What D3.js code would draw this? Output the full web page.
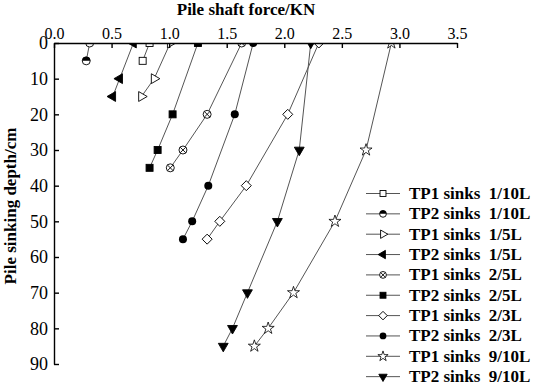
<!DOCTYPE html>
<html lang="en">
<head>
  <meta charset="UTF-8">
  <title>Pile shaft force</title>
  <style>
    body { margin: 0; background: #fff; }
    svg text { font-family: 'Liberation Serif', 'Times New Roman', serif !important; }
  </style>
</head>
<body>
  <svg id="svg" width="533" height="387"></svg>

  <script src="https://d3js.org/d3.v7.min.js"></script>
  <script>
    // ------ DATA ------------------------
    const seriesNames = [
      'TP1 sinks  1/10L', 'TP2 sinks  1/10L', 'TP1 sinks  1/5L', 'TP2 sinks  1/5L',
      'TP1 sinks  2/5L', 'TP2 sinks  2/5L', 'TP1 sinks  2/3L', 'TP2 sinks  2/3L',
      'TP1 sinks  9/10L', 'TP2 sinks  9/10L'
    ]
    const markerTypes = [
      'squareOpen', 'halfCircle', 'triRightOpen', 'triLeftFilled', 'circleX',
      'squareFilled', 'diamondOpen', 'circleFilled', 'starOpen', 'triDownFilled'
    ]

    // depth (cm) and force (KN) for each series
    const depth1_10 = [0, 5]
    const force1_10TP1 = [0.83, 0.77]
    const force1_10TP2 = [0.31, 0.28]

    const depth1_5 = [0, 10, 15]
    const force1_5TP1 = [1.01, 0.87, 0.76]
    const force1_5TP2 = [0.69, 0.57, 0.51]

    const depth2_5 = [0, 20, 30, 35]
    const force2_5TP1 = [1.63, 1.33, 1.12, 1.01]
    const force2_5TP2 = [1.25, 1.03, 0.90, 0.83]

    const depth2_3 = [0, 20, 40, 50, 55]
    const force2_3TP1 = [2.30, 2.03, 1.67, 1.44, 1.33]
    const force2_3TP2 = [1.73, 1.57, 1.34, 1.20, 1.12]

    const depth9_10 = [0, 30, 50, 70, 80, 85]
    const force9_10TP1 = [2.93, 2.71, 2.44, 2.08, 1.86, 1.74]
    const force9_10TP2 = [2.23, 2.13, 1.94, 1.68, 1.55, 1.47]

    const xTicks = [0, 0.5, 1.0, 1.5, 2.0, 2.5, 3.0, 3.5]
    const yTicks = [0, 10, 20, 30, 40, 50, 60, 70, 80, 90]

    const zip = (forces, depths) => forces.map((f, i) => ({ x: f, y: depths[i] }))
    const series = [
      zip(force1_10TP1, depth1_10), zip(force1_10TP2, depth1_10),
      zip(force1_5TP1, depth1_5), zip(force1_5TP2, depth1_5),
      zip(force2_5TP1, depth2_5), zip(force2_5TP2, depth2_5),
      zip(force2_3TP1, depth2_3), zip(force2_3TP2, depth2_3),
      zip(force9_10TP1, depth9_10), zip(force9_10TP2, depth9_10)
    ].map((pts, i) => ({ name: seriesNames[i], marker: markerTypes[i], points: pts }))

    // CONSTANTS
    const margin = { top: 43, left: 54 }
    const width = 403
    const height = 321
    const serif = "'Liberation Serif', 'Times New Roman', serif"

    // ------ SCALES ------------------------
    const xscale = d3.scaleLinear().domain([0, 3.5]).range([margin.left, margin.left + width])
    const yscale = d3.scaleLinear().domain([0, 90]).range([margin.top, margin.top + height])

    const svg = d3.select('#svg')

    svg.append('defs').append('clipPath').attr('id', 'plotClip')
      .append('rect')
      .attr('x', margin.left).attr('y', margin.top)
      .attr('width', width + 20).attr('height', height + 20)

    // draw one marker into group g (centred at 0,0)
    const drawMarker = (g, type, s) => {
      const sym = (t, size) => d3.symbol().type(t).size(size)()
      const black = '#000'
      if (type === 'squareOpen' || type === 'squareFilled') {
        g.append('rect').attr('x', -3.5 * s).attr('y', -3.5 * s)
          .attr('width', 7 * s).attr('height', 7 * s)
          .attr('fill', type === 'squareFilled' ? black : '#fff').attr('stroke', black).attr('stroke-width', 0.9)
      } else if (type === 'halfCircle') {
        const r = 4 * s
        g.append('circle').attr('r', r).attr('fill', '#fff').attr('stroke', black).attr('stroke-width', 0.9)
        g.append('path').attr('d', `M${-r},0A${r},${r} 0 0 1 ${r},0Z`).attr('fill', black)
      } else if (type === 'circleFilled') {
        g.append('circle').attr('r', 4 * s).attr('fill', black)
      } else if (type === 'circleX') {
        const r = 4 * s
        g.append('circle').attr('r', r).attr('fill', '#fff').attr('stroke', black).attr('stroke-width', 0.9)
        const k = r * 0.7
        g.append('path').attr('d', `M${-k},${-k}L${k},${k}M${-k},${k}L${k},${-k}`)
          .attr('stroke', black).attr('stroke-width', 0.9)
      } else if (type === 'diamondOpen') {
        g.append('path').attr('d', sym(d3.symbolSquare, 50 * s * s)).attr('transform', 'rotate(45)')
          .attr('fill', '#fff').attr('stroke', black).attr('stroke-width', 0.9)
      } else if (type === 'starOpen') {
        g.append('path').attr('d', sym(d3.symbolStar, 45 * s * s))
          .attr('fill', '#fff').attr('stroke', black).attr('stroke-width', 0.8)
      } else {
        const rot = { triRightOpen: 90, triLeftFilled: -90, triDownFilled: 180 }[type]
        const filled = type !== 'triRightOpen'
        g.append('path').attr('d', sym(d3.symbolTriangle, 42 * s * s)).attr('transform', `rotate(${rot})`)
          .attr('fill', filled ? black : '#fff').attr('stroke', black).attr('stroke-width', 0.9)
      }
    }

    // ---------- DRAW -------------------------------
    const plot = svg.append('g').attr('clip-path', 'url(#plotClip)')
    const line = d3.line().x(d => xscale(d.x)).y(d => yscale(d.y))

    series.forEach(s => {
      plot.append('path')
        .datum(s.points)
        .attr('d', line)
        .attr('fill', 'none')
        .attr('stroke', '#555')
        .attr('stroke-width', 1)
    })
    series.forEach(s => {
      s.points.forEach(p => {
        const g = plot.append('g').attr('transform', `translate(${xscale(p.x)},${yscale(p.y)})`)
        drawMarker(g, s.marker, 1)
      })
    })

    // ------ AXES ------------------------
    const topAxis = d3.axisTop(xscale)
      .tickValues(xTicks)
      .tickFormat(d3.format('.1f'))
      .tickSizeInner(-5).tickSizeOuter(0).tickPadding(4)
    const topG = svg.append('g')
      .attr('transform', `translate(0, ${margin.top})`)
      .call(topAxis)
      .attr('font-family', serif)
    topG.selectAll('text').style('font-size', '16px').style('font-family', serif).attr('fill', '#000')

    const leftAxis = d3.axisLeft(yscale)
      .tickValues(yTicks)
      .tickSizeInner(-5).tickSizeOuter(0).tickPadding(6)
    const leftG = svg.append('g')
      .attr('transform', `translate(${margin.left}, 0)`)
      .call(leftAxis)
      .attr('font-family', serif)
    leftG.selectAll('text').style('font-size', '18px').style('font-family', serif).attr('fill', '#000')

    svg.selectAll('.domain, .tick line').attr('stroke', '#000').attr('stroke-width', 1.4)

    // axis labels
    svg.append('text')
      .attr('x', 246).attr('y', 15)
      .attr('text-anchor', 'middle')
      .style('font-size', '17px').style('font-weight', 'bold')
      .text('Pile shaft force/KN')

    svg.append('text')
      .attr('transform', 'translate(16, 206)rotate(-90)')
      .attr('text-anchor', 'middle')
      .style('font-size', '17px').style('font-weight', 'bold')
      .text('Pile sinking depth/cm')

    // ------ LEGEND ------------------------
    const legend = svg.append('g')
    series.forEach((s, i) => {
      const y = 193.5 + i * 20.35
      legend.append('line')
        .attr('x1', 366).attr('x2', 400).attr('y1', y).attr('y2', y)
        .attr('stroke', '#555').attr('stroke-width', 1)
      const g = legend.append('g').attr('transform', `translate(383,${y})`)
      drawMarker(g, s.marker, 0.85)
      legend.append('text')
        .attr('x', 409).attr('y', y + 5.5)
        .style('font-size', '17px').style('font-weight', 'bold')
        .style('white-space', 'pre')
        .text(s.name)
    })
  </script>
</body>
</html>
